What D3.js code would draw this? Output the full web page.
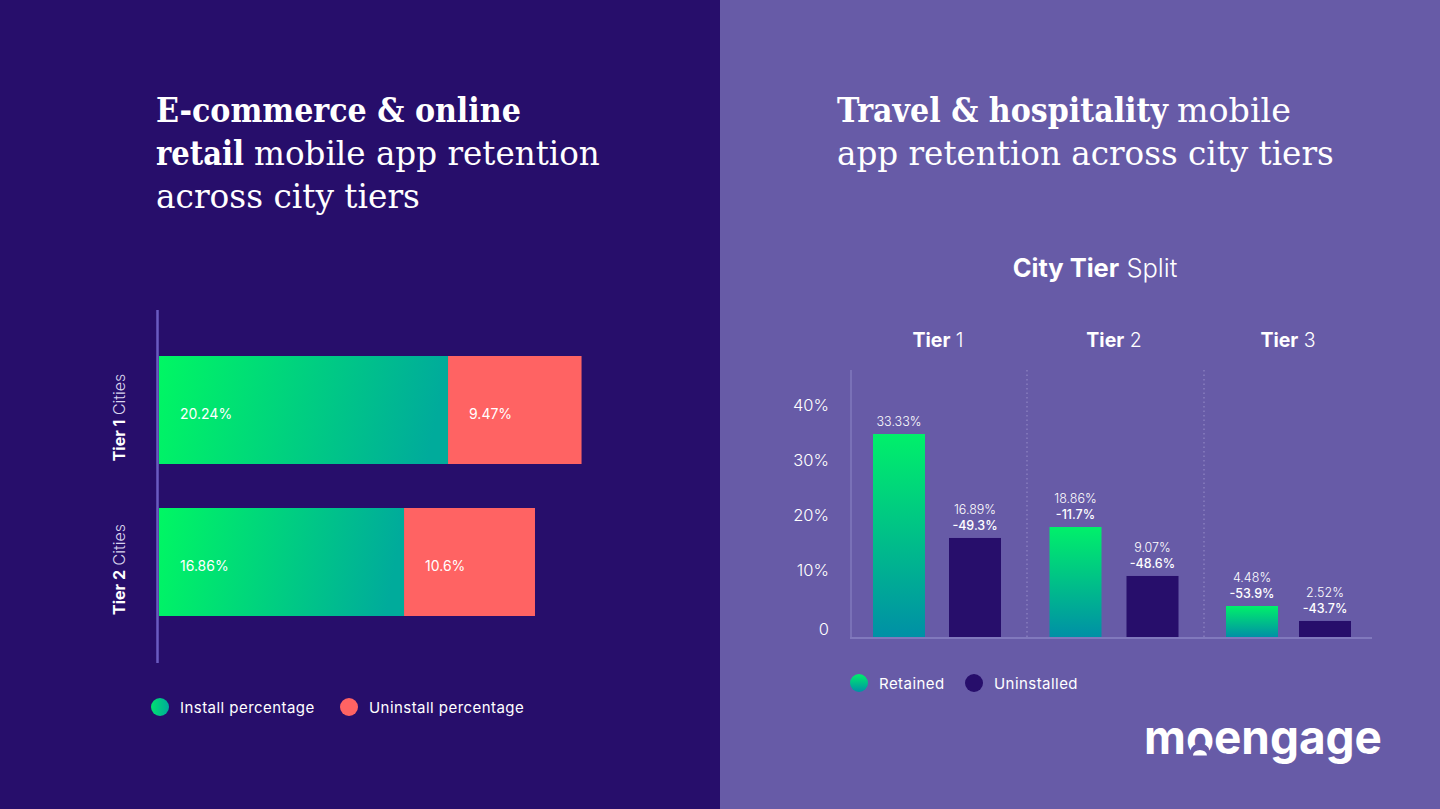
<!DOCTYPE html>
<html>
<head>
<meta charset="utf-8">
<script src="https://cdn.jsdelivr.net/npm/d3@7"></script>
<style>
  html, body { margin: 0; padding: 0; background: #270e6b; }
  svg { display: block; }
  text { font-family: Inter, "Open Sans", sans-serif; fill: #fff; }
  .title { font-family: "DejaVu Serif", serif; font-size: 34px; }
</style>
</head>
<body>
<svg id="chart" width="1440" height="809"></svg>
<script>
// left chart. bar lengths are read off the picture, they don't quite follow the printed labels
var cities = ["Tier 1", "Tier 2"];
var installLengths = [20.24, 17.16];
var uninstallLengths = [9.35, 9.17];
var installLabels = ["20.24%", "16.86%"];
var uninstallLabels = ["9.47%", "10.6%"];

// right chart. same thing, heights are measured from the bars
var tiers = ["Tier 1", "Tier 2", "Tier 3"];
var retainedHeights = [33.33, 18.06, 5.09];
var uninstalledHeights = [16.26, 10.02, 2.63];
var retainedLabels = ["33.33%", "18.86%", "4.48%"];
var uninstalledLabels = ["16.89%", "9.07%", "2.52%"];
var retainedChange = ["", "-11.7%", "-53.9%"];
var uninstalledChange = ["-49.3%", "-48.6%", "-43.7%"];
var yTicks = [0, 10, 20, 30, 40];

var svg = d3.select("#chart");
var defs = svg.append("defs");

function addGradient(id, x2, y2, from, to) {
    var g = defs.append("linearGradient").attr("id", id)
        .attr("x1", 0).attr("y1", 0).attr("x2", x2).attr("y2", y2);
    g.append("stop").attr("offset", "0%").attr("stop-color", from);
    g.append("stop").attr("offset", "100%").attr("stop-color", to);
}
addGradient("installGrad", 1, 0.08, "#00f763", "#00ab9b");
addGradient("retainedGrad", 0, 1, "#00f06a", "#0090a6");

svg.append("rect").attr("width", 720).attr("height", 809).attr("fill", "#270e6b");
svg.append("rect").attr("x", 720).attr("width", 720).attr("height", 809).attr("fill", "#675ba7");

// titles, squeezed sideways to the width they have in the picture
function titlePart(x, y, width, txt, bold) {
    var t = svg.append("text").attr("class", "title")
        .attr("font-weight", bold ? 700 : 400).text(txt);
    var sx = width / t.node().getComputedTextLength();
    t.attr("transform", `translate(${x},${y}) scale(${sx},1)`);
}
titlePart(156, 122, 365, "E-commerce & online", true);
titlePart(156, 165, 88, "retail", true);
titlePart(254, 165, 346, "mobile app retention", false);
titlePart(156, 208, 264, "across city tiers", false);
titlePart(837, 122, 331, "Travel & hospitality", true);
titlePart(1177, 122, 114, "mobile", false);
titlePart(837, 165, 497, "app retention across city tiers", false);

// ---- left stacked bars ----
var xLeft = d3.scaleLinear().domain([0, 30]).range([159, 587.4]);
var yLeft = d3.scaleBand().domain(cities).range([356, 616]).paddingInner(44 / 152);

svg.append("line").attr("x1", 157.5).attr("x2", 157.5).attr("y1", 310).attr("y2", 663)
    .attr("stroke", "#6a5bc0").attr("stroke-width", 2.5);

cities.forEach((city, i) => {
    var y = yLeft(city);
    var h = yLeft.bandwidth();
    var split = installLengths[i];
    svg.append("rect").attr("x", xLeft(0)).attr("y", y)
        .attr("width", xLeft(split) - xLeft(0)).attr("height", h)
        .attr("fill", "url(#installGrad)");
    svg.append("rect").attr("x", xLeft(split)).attr("y", y)
        .attr("width", xLeft(split + uninstallLengths[i]) - xLeft(split)).attr("height", h)
        .attr("fill", "#ff6363");
    svg.append("text").attr("x", xLeft(0) + 21).attr("y", y + 63)
        .attr("font-size", 14).text(installLabels[i]);
    svg.append("text").attr("x", xLeft(split) + 21).attr("y", y + 63)
        .attr("font-size", 14).text(uninstallLabels[i]);

    // rotated category label
    var lab = svg.append("text").attr("font-size", 16).attr("text-anchor", "middle")
        .attr("transform", `translate(125,${y + h / 2 + 7.5}) rotate(-90)`);
    lab.append("tspan").attr("font-weight", 700).text(city);
    lab.append("tspan").attr("font-weight", 300).attr("fill", "#d8d4ee").text(" Cities");
});

// ---- right grouped bars ----
// tick labels in the picture have a tighter spacing than the bars, so the axis has its own scale
var yAxisScale = d3.scaleLinear().domain([0, 40]).range([625, 405]);
var yBars = d3.scaleLinear().domain([0, 40]).range([637, 637 - 40 * 6.09]);
var x0 = d3.scaleBand().domain(tiers).range([873, 873 + 3 * 176.5]);
// gap between the two bars is not the same in each group
var groupGaps = [24, 25, 21];
var barWidth = 52;
function x1For(i) {
    var gap = groupGaps[i];
    return d3.scaleBand().domain(["retained", "uninstalled"])
        .range([0, 2 * barWidth + gap]).paddingInner(gap / (barWidth + gap));
}

svg.append("text").attr("x", 1095).attr("y", 277).attr("text-anchor", "middle").attr("font-size", 25.5)
    .call(t => {
        t.append("tspan").attr("font-weight", 700).text("City Tier");
        t.append("tspan").attr("font-weight", 300).text(" Split");
    });

var tierCentres = [938, 1114, 1288];
tiers.forEach((tier, i) => {
    var parts = tier.split(" ");
    var t = svg.append("text").attr("x", tierCentres[i]).attr("y", 346.5)
        .attr("text-anchor", "middle").attr("font-size", 19.5);
    t.append("tspan").attr("font-weight", 700).text(parts[0]);
    t.append("tspan").attr("font-weight", 300).text(" " + parts[1]);
});

var axisG = svg.append("g").attr("transform", "translate(829,0)")
    .call(d3.axisLeft(yAxisScale).tickValues(yTicks).tickSize(0).tickPadding(0)
        .tickFormat(d => d === 0 ? "0" : d + "%"));
axisG.select(".domain").remove();
axisG.selectAll("text").attr("font-size", 16.5).attr("font-weight", 300)
    .style("font-family", "Inter, sans-serif").attr("fill", "#e6e3f3");
// the 0 sits a little lower than the even spacing
axisG.selectAll("text").filter(d => d === 0).attr("y", 4);

// dotted dividers between the tiers
[1027, 1204].forEach(x => {
    svg.append("line").attr("x1", x).attr("x2", x).attr("y1", 370).attr("y2", 637)
        .attr("stroke", "#8f86c4").attr("stroke-width", 1.2).attr("stroke-dasharray", "1.5 3");
});
svg.append("line").attr("x1", 851).attr("x2", 851).attr("y1", 370).attr("y2", 638)
    .attr("stroke", "#8179bd").attr("stroke-width", 1.5);
svg.append("line").attr("x1", 850).attr("x2", 1372).attr("y1", 638).attr("y2", 638)
    .attr("stroke", "#8179bd").attr("stroke-width", 2);

function drawBar(tierIdx, series, height, fill, topLabel, changeLabel) {
    var x1 = x1For(tierIdx);
    var x = x0(tiers[tierIdx]) + x1(series);
    var w = x1.bandwidth();
    var top = yBars(height);
    svg.append("rect").attr("x", x).attr("y", top).attr("width", w)
        .attr("height", yBars(0) - top).attr("fill", fill);
    var cx = x + w / 2;
    if (changeLabel) {
        svg.append("text").attr("x", cx).attr("y", top - 8).attr("text-anchor", "middle")
            .attr("font-size", 12.5).attr("font-weight", 500).text(changeLabel);
        svg.append("text").attr("x", cx).attr("y", top - 24).attr("text-anchor", "middle")
            .attr("font-size", 12.5).attr("font-weight", 300).attr("fill", "#e6e3f3").text(topLabel);
    } else {
        svg.append("text").attr("x", cx).attr("y", top - 8).attr("text-anchor", "middle")
            .attr("font-size", 12.5).attr("font-weight", 300).attr("fill", "#e6e3f3").text(topLabel);
    }
}
tiers.forEach((tier, i) => {
    drawBar(i, "retained", retainedHeights[i], "url(#retainedGrad)", retainedLabels[i], retainedChange[i]);
    drawBar(i, "uninstalled", uninstalledHeights[i], "#270e6b", uninstalledLabels[i], uninstalledChange[i]);
});

// legends
function legendItem(cx, cy, fill, label, color) {
    svg.append("circle").attr("cx", cx).attr("cy", cy).attr("r", 9).attr("fill", fill);
    svg.append("text").attr("x", cx + 20).attr("y", cy + 5.5).attr("font-size", 15)
        .attr("letter-spacing", 0.45).attr("fill", color).text(label);
}
addGradient("installDot", 1, 0, "#00e070", "#00ab9b");
legendItem(160, 707, "url(#installDot)", "Install percentage", "#d5d0ec");
legendItem(349, 707, "#ff6363", "Uninstall percentage", "#d5d0ec");
legendItem(859, 683, "url(#retainedGrad)", "Retained", "#dcd8f0");
legendItem(974, 683, "#270e6b", "Uninstalled", "#dcd8f0");

// logo, the o has a little head cut out of it
var logo = svg.append("text").attr("font-size", 47).attr("font-weight", 700).text("moengage");
var logoSx = 238 / logo.node().getComputedTextLength();
logo.attr("transform", `translate(1144,754) scale(${logoSx},1)`);
var oStart = logo.node().getStartPositionOfChar(1).x;
var oEnd = logo.node().getEndPositionOfChar(1).x;
var oCx = 1144 + (oStart + oEnd) / 2 * logoSx;
svg.append("ellipse").attr("cx", oCx).attr("cy", 750).attr("rx", 9).attr("ry", 6.5).attr("fill", "#675ba7");
svg.append("rect").attr("x", oCx - 9).attr("y", 750).attr("width", 18).attr("height", 6).attr("fill", "#675ba7");
svg.append("path").attr("d", `M${oCx - 7},755.5 A7,5.5 0 0 1 ${oCx + 7},755.5 Z`).attr("fill", "#fff");
</script>
</body>
</html>
